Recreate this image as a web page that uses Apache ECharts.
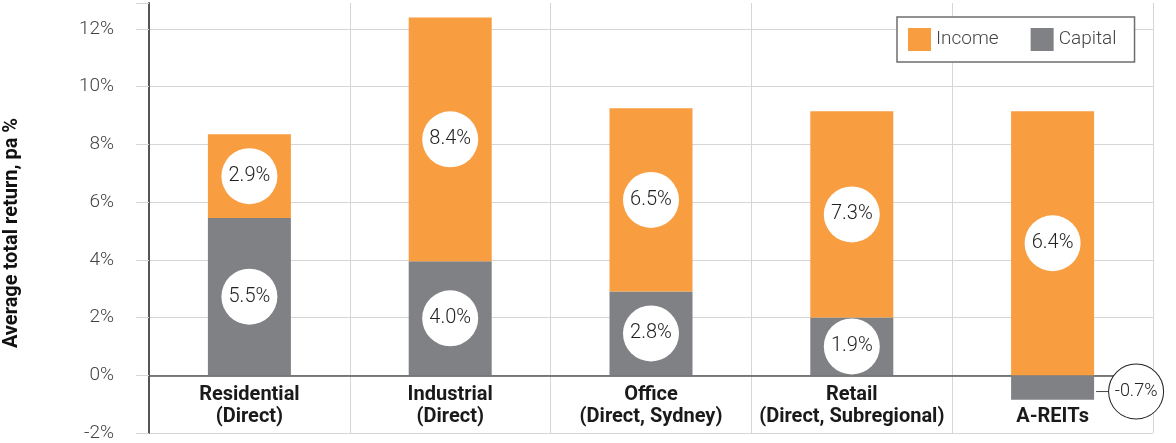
<!DOCTYPE html>
<html>
<head>
<meta charset="utf-8">
<script src="https://cdn.jsdelivr.net/npm/echarts@6/dist/echarts.min.js"></script>
<style>
  html, body { margin: 0; padding: 0; background: #fff; }
  #chart { width: 1176px; height: 443px; }
</style>
</head>
<body>
<div id="chart"></div>
<script>
const categories = ['Residential\n(Direct)', 'Industrial\n(Direct)', 'Office\n(Direct, Sydney)', 'Retail\n(Direct, Subregional)', 'A-REITs']
// bar heights as drawn in the picture
const capitalValues = [5.45, 3.95, 2.9, 2.0, -0.85]
const incomeValues = [2.9, 8.45, 6.35, 7.15, 9.15]
// labels printed in the circles
const capitalLabels = ['5.5%', '4.0%', '2.8%', '1.9%', '-0.7%']
const incomeLabels = ['2.9%', '8.4%', '6.5%', '7.3%', '6.4%']

const ORANGE = '#F89D40'
const GREY = '#808184'
const FONT = 'Roboto'

const Y_MIN = -2
const Y_MAX = 12.9
const GRID_TOP = 3
const GRID_BOTTOM = 10
// move the category axis (line + labels) up from the grid bottom to the zero line
const plotHeight = 443 - GRID_TOP - GRID_BOTTOM
const zeroOffset = -plotHeight * (0 - Y_MIN) / (Y_MAX - Y_MIN)

function circleLabel(text) {
  return {
    show: true,
    position: 'inside',
    formatter: text,
    width: 56,
    height: 56,
    lineHeight: 56,
    borderRadius: 28,
    backgroundColor: '#fff',
    align: 'center',
    color: '#222',
    fontFamily: FONT,
    fontSize: 20,
    fontWeight: 300
  }
}

function sideLabel(text) {
  return {
    show: true,
    position: 'right',
    distance: 2,
    offset: [0, 4],
    formatter: '{ln|}{c|' + text + '}',
    rich: {
      ln: { width: 13, height: 1, backgroundColor: '#444', verticalAlign: 'middle' },
      c: {
        width: 54,
        height: 54,
        lineHeight: 54,
        borderRadius: 28,
        borderWidth: 1,
        borderColor: '#222',
        backgroundColor: '#fff',
        align: 'center',
        verticalAlign: 'middle',
        color: '#222',
        fontFamily: FONT,
        fontSize: 18,
        fontWeight: 300
      }
    }
  }
}

const chart = echarts.init(document.getElementById('chart'))

chart.setOption({
  animation: false,
  grid: { left: 149, right: 23, top: GRID_TOP, bottom: GRID_BOTTOM, outerBoundsMode: 'none', containLabel: false },
  legend: {
    data: ['Income', 'Capital'],
    left: 897,
    top: 17,
    icon: 'rect',
    itemWidth: 23,
    itemHeight: 23,
    itemGap: 32,
    padding: [11, 18, 11, 11],
    borderColor: '#6d6d6d',
    borderWidth: 1.5,
    backgroundColor: '#fff',
    textStyle: { fontFamily: FONT, fontSize: 19, fontWeight: 300, color: '#444' }
  },
  graphic: [{
    type: 'text',
    x: 12,
    y: 233,
    rotation: Math.PI / 2,
    style: {
      text: 'Average total return, pa %',
      fontFamily: FONT,
      fontSize: 20,
      fontWeight: 'bold',
      fill: '#111',
      textAlign: 'center',
      textVerticalAlign: 'middle'
    }
  }],
  xAxis: {
    type: 'category',
    data: categories,
    offset: zeroOffset,
    axisLine: { onZero: false, lineStyle: { color: '#555', width: 1.5 } },
    axisTick: { show: false },
    axisLabel: {
      interval: 0,
      margin: 9,
      showMinLabel: true,
      showMaxLabel: true,
      hideOverlap: false,
      fontFamily: FONT,
      fontSize: 20,
      fontWeight: 'bold',
      lineHeight: 22,
      color: '#1a1a1a',
      // single-line names sit on the second line, below the negative bar
      formatter: v => (v.indexOf('\n') < 0 ? '\n' + v : v)
    },
    splitLine: { show: true, interval: 0, lineStyle: { color: '#d6d6d6', width: 1 } }
  },
  yAxis: {
    type: 'value',
    min: Y_MIN,
    max: Y_MAX,
    interval: 2,
    axisLine: { show: true, lineStyle: { color: '#555', width: 2 } },
    axisTick: { show: true, length: 13, lineStyle: { color: '#d6d6d6' } },
    axisLabel: {
      margin: 35,
      fontFamily: FONT,
      fontSize: 19,
      fontWeight: 300,
      color: '#444',
      formatter: v => (Math.abs(v % 2) < 1e-6 ? v + '%' : '')
    },
    splitLine: { showMaxLine: false, lineStyle: { color: '#d6d6d6', width: 1 } }
  },
  series: [
    {
      name: 'Capital',
      type: 'bar',
      stack: 'total',
      barWidth: 83,
      itemStyle: { color: GREY },
      data: capitalValues.map((v, i) => ({
        value: v,
        label: v < 0 ? sideLabel(capitalLabels[i]) : circleLabel(capitalLabels[i])
      }))
    },
    {
      name: 'Income',
      type: 'bar',
      stack: 'total',
      barWidth: 83,
      itemStyle: { color: ORANGE },
      data: incomeValues.map((v, i) => ({
        value: v,
        label: circleLabel(incomeLabels[i])
      }))
    }
  ]
})
</script>
</body>
</html>
